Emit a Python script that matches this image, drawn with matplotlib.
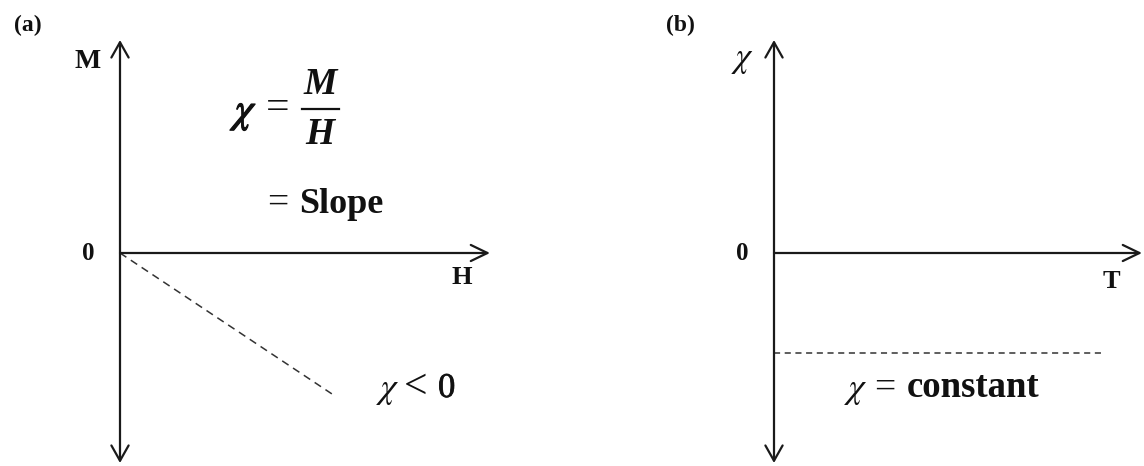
import matplotlib
matplotlib.use("Agg")
import matplotlib.pyplot as plt
from matplotlib.lines import Line2D
from matplotlib.patches import ArrowStyle
import matplotlib.patheffects as pe

# --- data -------------------------------------------------------------
# (a) diamagnetic M(H): straight line through the origin with negative slope
H_dia = [0.0, 0.58]
M_dia = [0.0, -0.67]
# (b) chi(T): temperature independent, negative constant
T_const = [0.0, 0.89]
chi_const = [-0.47, -0.47]

panel_labels = ["(a)", "(b)"]
x_labels = ["H", "T"]
y_labels = ["M", r"$\chi$"]
zero_label = "0"

W, H = 1144, 466
fig = plt.figure(figsize=(W / 100, H / 100), dpi=100)
fig.patch.set_facecolor("white")

SERIF = ["Liberation Serif", "DejaVu Serif"]
INK = "#1a1a1a"
TXT = "#111111"


def fxy(x, y):
    """pixel position -> figure fraction"""
    return x / W, 1 - y / H


def make_axes(left, right, top, bottom, zero_y):
    ax = fig.add_axes([left / W, (H - bottom) / H, (right - left) / W, (bottom - top) / H])
    up = zero_y - top
    ax.set_xlim(0, 1)
    ax.set_ylim(-(bottom - zero_y) / up, 1)
    ax.axis("off")
    return ax


def draw_frame(ax):
    ylo = ax.get_ylim()[0]
    style = ArrowStyle("<->", head_length=1.1, head_width=0.62)
    ax.annotate("", xy=(0, 1), xytext=(0, ylo),
                arrowprops=dict(arrowstyle=style, lw=1.6, color=INK,
                                shrinkA=0, shrinkB=0, mutation_scale=10),
                annotation_clip=False)
    style = ArrowStyle("->", head_length=1.2, head_width=0.58)
    ax.annotate("", xy=(1, 0), xytext=(0, 0),
                arrowprops=dict(arrowstyle=style, lw=1.6, color=INK,
                                shrinkA=0, shrinkB=0, mutation_scale=10),
                annotation_clip=False)


ax_a = make_axes(120, 490, 40, 463, 253)
ax_b = make_axes(774, 1142, 40, 463, 253)
for ax in (ax_a, ax_b):
    draw_frame(ax)

ax_a.plot(H_dia, M_dia, ls=(0, (5, 3.5)), lw=1.1, color="#333333", clip_on=False)
ax_b.plot(T_const, chi_const, ls=(0, (4, 3)), lw=1.1, color="#333333", clip_on=False)


# --- labels -----------------------------------------------------------
def label(x, y, s, size, weight="bold", style="normal", ha="center", va="center", bold_math=False):
    t = fig.text(*fxy(x, y), s, fontsize=size, fontweight=weight, fontstyle=style,
                 family=SERIF, math_fontfamily="stix", ha=ha, va=va, color=TXT)
    if bold_math:
        t.set_path_effects([pe.withStroke(linewidth=0.9, foreground=TXT)])
    return t


label(28, 25, panel_labels[0], 17)
label(680, 25, panel_labels[1], 17)
label(88, 62, y_labels[0], 20)
label(743, 60, y_labels[1], 25, weight="normal")
label(88, 253, zero_label, 18)
label(742, 253, zero_label, 18)
label(462, 278, x_labels[0], 19)
label(1111, 281, x_labels[1], 19)

# chi = M / H = slope
label(248, 114, r"$\chi$", 30, weight="normal", bold_math=True)
label(278, 109, "=", 30, weight="normal")
label(320, 84, "M", 27, style="italic")
label(320, 134, "H", 27, style="italic")
fig.add_artist(Line2D([302 / W, 339 / W], [1 - 109 / H, 1 - 109 / H], lw=1.6, color=TXT))

fig.text(*fxy(267, 213), "=", fontsize=27, family=SERIF, ha="left", va="baseline", color=TXT)
fig.text(*fxy(299, 213), "Slope", fontsize=26, fontweight="bold", family=SERIF,
         ha="left", va="baseline", color=TXT)

# chi < 0 beside the dashed line
fig.text(*fxy(376, 398), r"$\chi$", fontsize=26, family=SERIF, math_fontfamily="stix",
         ha="left", va="baseline", color=TXT)
fig.text(*fxy(416, 388), "<", fontsize=30, family=SERIF, ha="center", va="center", color=TXT)
fig.text(*fxy(438, 397), "0", fontsize=25, family=SERIF, ha="left", va="baseline", color=TXT,
         path_effects=[pe.withStroke(linewidth=0.5, foreground=TXT)])

# chi = constant below the dashed line
fig.text(*fxy(844, 398), r"$\chi$", fontsize=26, family=SERIF, math_fontfamily="stix",
         ha="left", va="baseline", color=TXT)
fig.text(*fxy(874, 398), "=", fontsize=27, family=SERIF, ha="left",
         va="baseline", color=TXT)
fig.text(*fxy(907, 397), "constant", fontsize=26.5, fontweight="bold", family=SERIF,
         ha="left", va="baseline", color=TXT)

fig.savefig("out.png", dpi=100, facecolor="white")
